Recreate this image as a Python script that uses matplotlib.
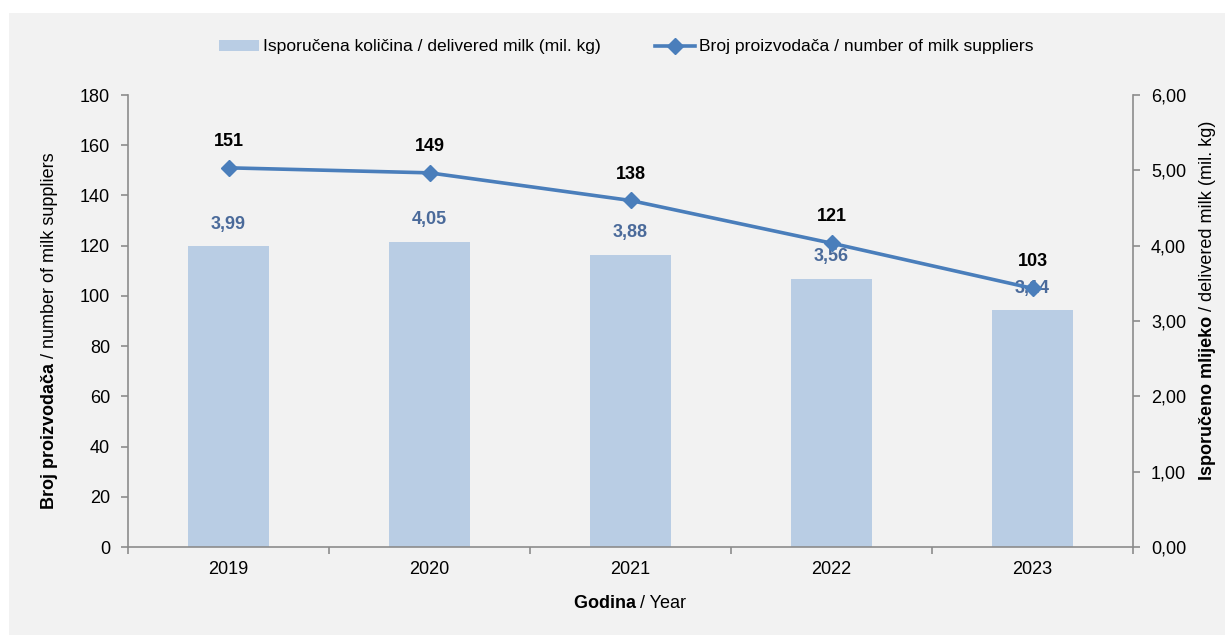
import matplotlib
matplotlib.use("Agg")
import matplotlib.pyplot as plt
from matplotlib.patches import Rectangle
from matplotlib import font_manager as fm

years = ["2019", "2020", "2021", "2022", "2023"]
delivered_milk = [3.99, 4.05, 3.88, 3.56, 3.14]
suppliers = [151, 149, 138, 121, 103]
left_ticks = [0, 20, 40, 60, 80, 100, 120, 140, 160, 180]
right_ticks = [0, 1, 2, 3, 4, 5, 6]

names = {f.name for f in fm.fontManager.ttflist}
fam = [f for f in ["Liberation Sans Narrow", "Liberation Sans", "DejaVu Sans"] if f in names]
plt.rcParams['font.family'] = fam

BAR = "#b9cde4"
LINE = "#4a7ebb"
BARTXT = "#4a6a9a"
SPINE = "#8c8c8c"
BG = "#f2f2f2"

fig = plt.figure(figsize=(12.25, 6.35), dpi=100, facecolor="white")
fig.patches.append(Rectangle((9/1225, 0), 1 - 9/1225, 1 - 13/635, transform=fig.transFigure,
                             facecolor=BG, edgecolor="none", zorder=-10))

ax = fig.add_axes([128/1225, 1 - 547/635, (1133 - 128)/1225, (547 - 95)/635])
ax.set_facecolor("none")
ax2 = ax.twinx()
ax2.set_zorder(0)
ax.set_zorder(1)
ax.patch.set_visible(False)

x = list(range(len(years)))
bars = ax2.bar(x, delivered_milk, width=0.4, color=BAR, zorder=1,
               label="Isporučena količina / delivered milk (mil. kg)")
for xi, v in zip(x, delivered_milk):
    ax2.annotate(f"{v:.2f}".replace(".", ","), (xi, v), xytext=(0, 16), textcoords="offset points",
                 ha="center", va="center", fontsize=13, fontweight="bold", color=BARTXT)

line, = ax.plot(x, suppliers, color=LINE, lw=2.6, marker="D", markersize=8, zorder=3,
                label="Broj proizvodača / number of milk suppliers")
for xi, v in zip(x, suppliers):
    ax.annotate(str(v), (xi, v), xytext=(0, 19), textcoords="offset points",
                ha="center", va="center", fontsize=13, fontweight="bold", color="black")

ax.set_xlim(-0.5, 4.5)
ax.set_ylim(0, 180)
ax2.set_ylim(0, 6)
ax.set_yticks(left_ticks)
ax.set_yticklabels([str(t) for t in left_ticks])
ax2.set_yticks(right_ticks)
ax2.set_yticklabels([f"{t:.2f}".replace(".", ",") for t in right_ticks])
ax.set_xticks(x)
ax.set_xticklabels(years)
ax.set_xticks([i + 0.5 for i in range(-1, 5)], minor=True)
ax.tick_params(axis="x", which="major", length=0, labelsize=13, pad=10)
ax.tick_params(axis="x", which="minor", length=5, color=SPINE, width=1.2)
ax.tick_params(axis="y", length=5, color=SPINE, width=1.2, labelsize=13, pad=8)
ax2.tick_params(axis="y", length=5, color=SPINE, width=1.2, labelsize=13, pad=8)

for a in (ax, ax2):
    for s in a.spines.values():
        s.set_color(SPINE)
        s.set_linewidth(1.2)
    a.spines["top"].set_visible(False)
ax.spines["right"].set_visible(False)
ax2.spines["left"].set_visible(False)
ax2.spines["bottom"].set_visible(False)

fig.legend(handles=[bars, line], loc="center", bbox_to_anchor=(0.511, 1 - 47/635), ncol=2,
           frameon=False, fontsize=12.6, handlelength=2.3, handleheight=0.6, handletextpad=0.2,
           columnspacing=3.1)

# mixed-weight axis labels
fig.canvas.draw()
r = fig.canvas.get_renderer()

def two_part(xpx, ypx_center, parts, rotation):
    texts = []
    for s, w in parts:
        t = fig.text(0, 0, s, fontsize=13, fontweight=w, rotation=rotation,
                     rotation_mode="anchor", ha="left", va="center", transform=None)
        texts.append(t)
    lens = []
    for t in texts:
        bb = t.get_window_extent(r)
        lens.append(bb.height if rotation == 90 else bb.width)
    total = sum(lens)
    pos = -total / 2
    for t, L in zip(texts, lens):
        if rotation == 90:
            t.set_position((xpx, (635 - ypx_center) + pos))
        else:
            t.set_position((xpx + pos, 635 - ypx_center))
        pos += L

two_part(50, 331, [("Broj proizvodača ", "bold"), ("/ number of milk suppliers", "normal")], 90)
two_part(1207, 300, [("Isporučeno mlijeko ", "bold"), ("/ delivered milk (mil. kg)", "normal")], 90)
two_part(630, 604, [("Godina ", "bold"), ("/ Year", "normal")], 0)

fig.savefig("out.png", dpi=100, facecolor=fig.get_facecolor())
